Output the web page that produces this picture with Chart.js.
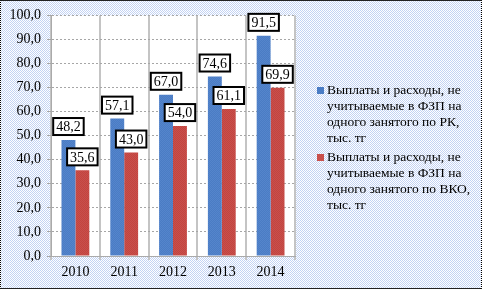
<!DOCTYPE html>
<html>
<head>
<meta charset="utf-8">
<script src="https://cdn.jsdelivr.net/npm/chart.js@4.4.0/dist/chart.umd.min.js"></script>
<style>
    html, body { margin: 0; padding: 0; }
    body { width: 482px; height: 289px; overflow: hidden; }
    #wrap {
        position: relative;
        width: 480px; height: 287px;
        border: 1px dotted #000;
        border-top: 1px solid #222;
        border-bottom: 1px solid #222;
    }
    #myChart { position: absolute; left: 0; top: 0; }
    #legend {
        position: absolute; left: 315px; top: 81px;
        font-family: 'Liberation Serif', 'Times New Roman', serif;
        font-size: 13.5px; line-height: 16px; color: #000;
    }
    .item { position: relative; padding-left: 11px; margin-bottom: 3px; }
    .box { position: absolute; left: 1px; top: 5px; width: 7px; height: 7px; }
</style>
</head>
<body>
<div id="wrap">
    <canvas id="myChart" width="480" height="287"></canvas>
    <div id="legend"></div>
</div>
<script>
const years = ['2010', '2011', '2012', '2013', '2014']
const rkValues = [48.2, 57.1, 67.0, 74.6, 91.5]
const vkoValues = [35.6, 43.0, 54.0, 61.1, 69.9]
const rkLabel = ['Выплаты и расходы, не', 'учитываемые в ФЗП на', 'одного занятого по РК,', 'тыс. тг']
const vkoLabel = ['Выплаты и расходы, не', 'учитываемые в ФЗП на', 'одного занятого по ВКО,', 'тыс. тг']

const serif = "'Liberation Serif', 'Times New Roman', serif"
const fmt = v => v.toFixed(1).replace('.', ',')

function checker(c1, c2) {
    const p = document.createElement('canvas')
    p.width = 2
    p.height = 2
    const g = p.getContext('2d')
    g.fillStyle = c1
    g.fillRect(0, 0, 2, 2)
    g.fillStyle = c2
    g.fillRect(0, 0, 1, 1)
    g.fillRect(1, 1, 1, 1)
    return g.createPattern(p, 'repeat')
}

const ctx = document.getElementById('myChart').getContext('2d')
const bgPattern = checker('#ffffff', '#c3d3f3')
const bluePattern = checker('#4a7cc4', '#5585cc')
const redPattern = checker('#c9504c', '#c2443f')

const backgroundPlugin = {
    id: 'bg',
    beforeDraw(chart) {
        const c = chart.ctx
        const a = chart.chartArea
        c.save()
        c.fillStyle = bgPattern
        c.fillRect(0, 0, chart.width, chart.height)
        c.fillStyle = '#ffffff'
        c.fillRect(a.left, a.top, a.right - a.left, a.bottom - a.top)
        c.restore()
    }
}

const labelPlugin = {
    id: 'boxLabels',
    afterDatasetsDraw(chart) {
        const c = chart.ctx
        c.save()
        c.font = '14px ' + serif
        c.textAlign = 'center'
        c.textBaseline = 'middle'
        chart.data.datasets.forEach((ds, i) => {
            chart.getDatasetMeta(i).data.forEach((bar, j) => {
                const text = fmt(ds.data[j])
                const w = c.measureText(text).width + 6
                const h = 17
                const x = bar.x - w / 2
                const y = bar.y - 5 - h
                c.fillStyle = '#ffffff'
                c.fillRect(x, y, w, h)
                c.lineWidth = 2
                c.strokeStyle = '#000'
                c.strokeRect(x, y, w, h)
                c.fillStyle = '#000'
                c.fillText(text, bar.x, y + h / 2 + 1)
            })
        })
        c.restore()
    }
}

const myChart = new Chart(ctx, {
    type: 'bar',
    data: {
        labels: years,
        datasets: [{
            label: rkLabel.join(' '),
            data: rkValues,
            backgroundColor: bluePattern,
            borderWidth: 0
        }, {
            label: vkoLabel.join(' '),
            data: vkoValues,
            backgroundColor: redPattern,
            borderWidth: 0
        }]
    },
    options: {
        responsive: false,
        animation: false,
        layout: { padding: { top: 14, right: 186, left: 0, bottom: 0 } },
        categoryPercentage: 0.57,
        barPercentage: 1,
        plugins: {
            legend: { display: false },
            tooltip: { enabled: false }
        },
        scales: {
            x: {
                grid: { color: '#c4c4c4', lineWidth: 2, tickLength: 4, drawTicks: true },
                border: { color: '#aaaaaa', width: 1 },
                ticks: { color: '#000', font: { family: serif, size: 14 }, padding: 4 },
                afterFit(scale) { scale.height = 32 }
            },
            y: {
                min: 0,
                max: 100,
                ticks: {
                    stepSize: 10,
                    color: '#000',
                    font: { family: serif, size: 14 },
                    padding: 6,
                    callback: v => fmt(v)
                },
                grid: { color: '#a6a6a6', tickLength: 4, drawTicks: true },
                border: { color: '#aaaaaa', dash: [2, 2] },
                afterFit(scale) { scale.width = 50 }
            }
        }
    },
    plugins: [backgroundPlugin, labelPlugin]
})

// dotted horizontal grid lines like the source
myChart.options.scales.y.grid.borderDash = [2, 2]
myChart.options.scales.y.border.dash = [2, 2]
myChart.update()

const legend = document.getElementById('legend')
const colors = ['#4a7cc4', '#c9504c']
;[rkLabel, vkoLabel].forEach((lines, i) => {
    const item = document.createElement('div')
    item.className = 'item'
    const box = document.createElement('span')
    box.className = 'box'
    box.style.background = colors[i]
    item.appendChild(box)
    const text = document.createElement('div')
    text.innerHTML = lines.join('<br>')
    item.appendChild(text)
    legend.appendChild(item)
})
</script>
</body>
</html>
